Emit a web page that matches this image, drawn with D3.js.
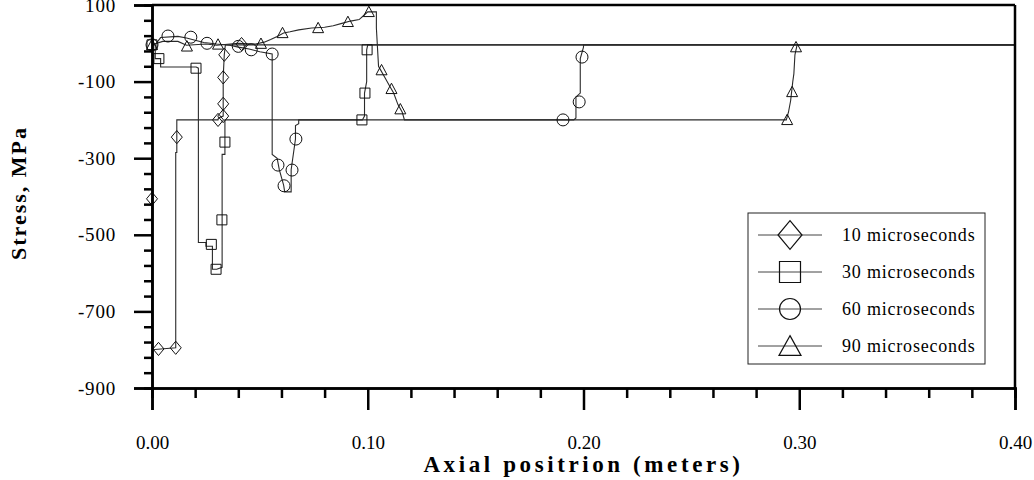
<!DOCTYPE html>
<html>
<head>
<meta charset="utf-8">
<script src="https://cdn.jsdelivr.net/npm/d3@7"></script>
<style>
body { margin: 0; background: #fff; }
text { font-family: "Liberation Serif", "Times New Roman", serif; fill: #000; }
</style>
</head>
<body>
<div id="chart"></div>
<script>
var svgWidth = 1034;
var svgHeight = 480;

// series names
var seriesNames = ["10 microseconds", "30 microseconds", "60 microseconds", "90 microseconds"];
var seriesShapes = ["diamond", "square", "circle", "triangle"];

// line vertices [x (m), stress (MPa)]
var line10 = [[0,-406],[0,-800],[0.011,-795],[0.011,-285],[0.0115,-285],[0.0115,-200],[0.0306,-200],[0.0308,-195],[0.033,-190],
  [0.033,-89],[0.0335,-30],[0.034,-4],[0.4,-4]];
var line30 = [[0,-4],[0.0015,-4],[0.0015,-40],[0.004,-40],[0.004,-62],[0.0205,-62],[0.0215,-65],[0.0215,-520],[0.025,-520],
  [0.025,-530],[0.028,-530],[0.028,-590],[0.030,-590],[0.0325,-585],[0.0325,-290],[0.0338,-290],[0.0338,-200],[0.0975,-200],
  [0.0985,-190],[0.0985,-130],[0.0995,-100],[0.0995,-17],[0.1,-4],[0.4,-4]];
var line60 = [[0,-4],[0.002,0],[0.004,15],[0.012,18],[0.016,14],[0.02,8],[0.024,2],[0.03,-2],[0.036,-5],[0.04,-10],[0.045,-15],
  [0.05,-22],[0.0557,-28],[0.0557,-290],[0.058,-300],[0.059,-330],[0.060,-350],[0.061,-370],[0.0615,-388],[0.0645,-388],
  [0.0645,-330],[0.0665,-250],[0.0665,-215],[0.068,-210],[0.068,-200],[0.1955,-200],[0.1965,-195],[0.1965,-140],[0.1985,-130],
  [0.1985,-40],[0.2,-10],[0.2,-4],[0.4,-4]];
var line90 = [[0,-4],[0.005,5],[0.012,5],[0.016,-5],[0.025,-2],[0.03,-5],[0.04,0],[0.048,-2],[0.052,3],[0.055,10],[0.058,18],
  [0.061,27],[0.064,30],[0.068,35],[0.074,40],[0.08,42],[0.084,46],[0.088,52],[0.092,58],[0.096,62],[0.098,72],[0.1,82],
  [0.104,82],[0.104,40],[0.105,-60],[0.106,-70],[0.108,-90],[0.11,-110],[0.112,-130],[0.114,-160],[0.116,-180],[0.117,-200],
  [0.294,-200],[0.295,-180],[0.296,-150],[0.297,-100],[0.2975,-80],[0.298,-30],[0.299,-4],[0.4,-4]];

// marker positions
var marks10 = [[0,-406],[0.003,-798],[0.011,-795],[0.0115,-245],[0.0306,-200],[0.033,-190],[0.033,-158],[0.033,-89],
  [0.0335,-30],[0.0415,-2]];
var marks30 = [[0,-4],[0.0032,-40],[0.0204,-65],[0.0275,-525],[0.0297,-590],[0.0324,-461],[0.0338,-258],[0.0973,-200],
  [0.0987,-130],[0.0997,-17]];
var marks60 = [[0,-4],[0.0074,19],[0.018,16],[0.0255,0],[0.04,-8],[0.046,-17],[0.0557,-28],[0.0584,-318],[0.0612,-372],
  [0.0649,-331],[0.0667,-250],[0.1905,-200],[0.198,-153],[0.1993,-36]];
var marks90 = [[0,-4],[0.0162,-8],[0.0306,-3],[0.0505,-1],[0.0605,27],[0.077,40],[0.0908,56],[0.1005,82],[0.1064,-70],
  [0.111,-119],[0.1151,-172],[0.2944,-200],[0.2967,-127],[0.2985,-10]];

var xMajor = [0, 0.1, 0.2, 0.3, 0.4];
var yMajor = [100, -100, -300, -500, -700, -900];

var lines = [line10, line30, line60, line90];
var marks = [marks10, marks30, marks60, marks90];

var pLeft = 152, pRight = 1015, pTop = 5, pBottom = 388;

var x = d3.scaleLinear().domain([0, 0.4]).range([pLeft, pRight]);
var y = d3.scaleLinear().domain([-900, 100]).range([pBottom, pTop]);

var svg = d3.select("#chart")
	.append("svg")
	.attr("width", svgWidth)
	.attr("height", svgHeight);

// marker shape paths, centered on 0,0
function shapePath(type, s) {
	if (type == "diamond") {
		return "M0," + (-s * 0.6) + "L" + (s * 0.5) + ",0L0," + (s * 0.6) + "L" + (-s * 0.5) + ",0Z";
	} else if (type == "square") {
		return "M" + (-s / 2) + "," + (-s / 2) + "h" + s + "v" + s + "h" + (-s) + "Z";
	} else if (type == "circle") {
		var r = s / 2;
		return "M" + r + ",0A" + r + "," + r + " 0 1,1 " + (-r) + ",0A" + r + "," + r + " 0 1,1 " + r + ",0Z";
	} else {
		var h = s * 0.85;
		return "M0," + (-h / 2 - 1) + "L" + (s / 2) + "," + (h / 2) + "L" + (-s / 2) + "," + (h / 2) + "Z";
	}
}
var plotSizes = { diamond: 11, square: 10, circle: 12, triangle: 11 };

var line = d3.line().x(d => x(d[0])).y(d => y(d[1]));

var plot = svg.append("g");
lines.forEach(function (pts, i) {
	plot.append("path")
		.attr("d", line(pts))
		.attr("fill", "none")
		.attr("stroke", "#2a2a2a")
		.attr("stroke-width", 1.1);
});
marks.forEach(function (pts, i) {
	var t = seriesShapes[i];
	plot.selectAll(".m" + i)
		.data(pts)
		.enter()
		.append("path")
		.attr("transform", d => "translate(" + x(d[0]) + "," + y(d[1]) + ")")
		.attr("d", shapePath(t, plotSizes[t]))
		.attr("fill", "none")
		.attr("stroke", "#111")
		.attr("stroke-width", 1);
});

// frame top and right
svg.append("line").attr("x1", pLeft).attr("x2", pRight).attr("y1", pTop).attr("y2", pTop)
	.attr("stroke", "#000").attr("stroke-width", 2.5);
svg.append("line").attr("x1", pRight).attr("x2", pRight).attr("y1", pTop).attr("y2", pBottom)
	.attr("stroke", "#000").attr("stroke-width", 2.5);

// x axis
var xMinor = d3.range(0, 0.4001, 0.02).filter(v => Math.abs(v * 10 - Math.round(v * 10)) > 1e-6);
var xMinorAxis = svg.append("g").attr("transform", "translate(0," + pBottom + ")")
	.call(d3.axisBottom(x).tickValues(xMinor).tickSize(10).tickFormat(""));
var xAxis = svg.append("g").attr("transform", "translate(0," + pBottom + ")")
	.call(d3.axisBottom(x).tickValues(xMajor).tickSize(22).tickPadding(26).tickFormat(d3.format(".2f")));

// y axis
var yMinor = d3.range(-900, 100, 40).filter(v => (v + 900) % 200 != 0);
var yMinorAxis = svg.append("g").attr("transform", "translate(" + pLeft + ",0)")
	.call(d3.axisLeft(y).tickValues(yMinor).tickSize(8).tickFormat(""));
var yAxis = svg.append("g").attr("transform", "translate(" + pLeft + ",0)")
	.call(d3.axisLeft(y).tickValues(yMajor).tickSize(18).tickPadding(18).tickFormat(d => String(d)));

[xMinorAxis, xAxis, yMinorAxis, yAxis].forEach(function (a) {
	a.select(".domain").attr("stroke-width", 2.5).attr("stroke", "#000");
	a.selectAll(".tick line").attr("stroke-width", 2.5).attr("stroke", "#000");
	a.selectAll("text").style("font-size", "19px").attr("fill", "#222")
		.style("font-family", "'Liberation Serif', serif");
});
yAxis.selectAll("text").style("letter-spacing", "0.8px");

// titles
svg.append("text")
	.attr("x", (pLeft + pRight) / 2)
	.attr("y", 472)
	.attr("text-anchor", "middle")
	.style("font-size", "23px")
	.style("font-weight", "bold")
	.style("letter-spacing", "3.6px")
	.text("Axial positrion (meters)");

svg.append("text")
	.attr("transform", "translate(26,193) rotate(-90)")
	.attr("text-anchor", "middle")
	.style("font-size", "22px")
	.style("font-weight", "bold")
	.style("letter-spacing", "2px")
	.text("Stress, MPa");

// legend
var legend = svg.append("g");
legend.append("rect")
	.attr("x", 748).attr("y", 213).attr("width", 237).attr("height", 151)
	.attr("fill", "#fff").attr("stroke", "#222").attr("stroke-width", 1);
var legendSizes = { diamond: 24, square: 21, circle: 21, triangle: 22 };
seriesNames.forEach(function (name, i) {
	var ly = 235 + i * 37;
	var t = seriesShapes[i];
	legend.append("line")
		.attr("x1", 758).attr("x2", 822).attr("y1", ly).attr("y2", ly)
		.attr("stroke", "#444").attr("stroke-width", 1);
	legend.append("path")
		.attr("transform", "translate(790," + ly + ")")
		.attr("d", shapePath(t, legendSizes[t]))
		.attr("fill", "none")
		.attr("stroke", "#111")
		.attr("stroke-width", 1.2);
	legend.append("text")
		.attr("x", 842)
		.attr("y", ly + 6)
		.style("font-size", "18px")
		.style("letter-spacing", "0.8px")
		.attr("fill", "#222")
		.text(name);
});
</script>
</body>
</html>
